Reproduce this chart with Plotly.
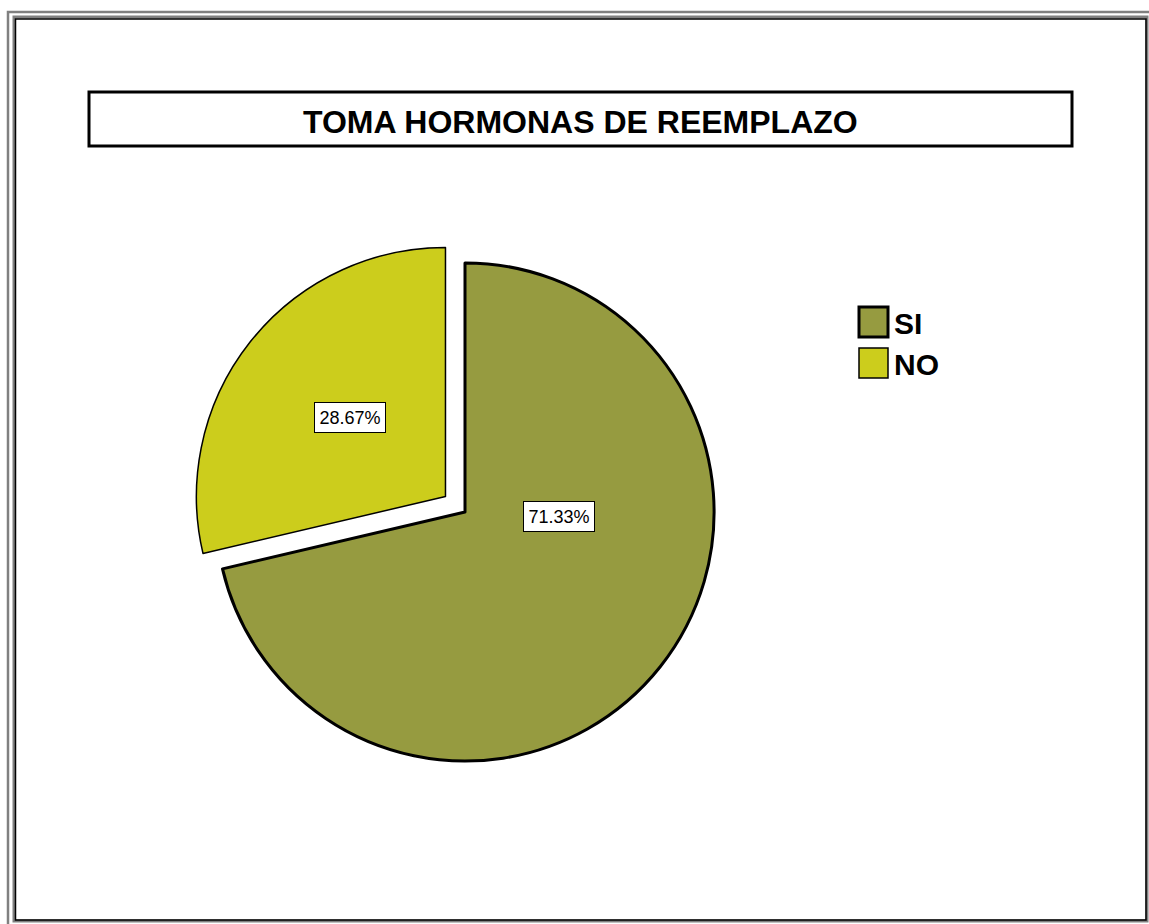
"""Toma hormonas de reemplazo - pie chart."""

import plotly.graph_objects as go

# Data
labels = ["SI", "NO"]
counts = [107, 43]
colors = ["#969B40", "#CCCD1C"]
pulls = [0, 0.1]
edge_widths = [3, 1.5]
title_text = "TOMA HORMONAS DE REEMPLAZO"

W, H = 1149, 924


def px(x):
    return x / W


def py(y):
    return 1 - y / H


total = sum(counts)
pct = [f"{c / total * 100:.2f}%" for c in counts]

# pie box of 548px around centre (465, 512)
cx, cy, half = 465, 512, 274

fig = go.Figure(
    go.Pie(
        labels=labels,
        values=counts,
        sort=False,
        direction="clockwise",
        rotation=0,
        pull=pulls,
        marker=dict(colors=colors, line=dict(color="black", width=edge_widths)),
        textinfo="none",
        hoverinfo="label+percent",
        showlegend=False,
        domain=dict(x=[px(cx - half), px(cx + half)], y=[py(cy + half), py(cy - half)]),
    )
)

shapes = [
    # outer double frame
    dict(type="rect", x0=px(8), y0=py(12), x1=px(1170), y1=py(940),
         line=dict(color="#808080", width=2.5)),
    dict(type="rect", x0=px(14), y0=py(17), x1=px(1147), y1=py(921),
         line=dict(color="#808080", width=3)),
    dict(type="rect", x0=px(15.5), y0=py(19), x1=px(1146), y1=py(920),
         line=dict(color="black", width=1.5)),
    # title box
    dict(type="rect", x0=px(89), y0=py(92), x1=px(1072), y1=py(146),
         line=dict(color="black", width=3), fillcolor="white", layer="below"),
]

annotations = [
    dict(text=f"<b>{title_text}</b>", x=px(580), y=py(122), xref="paper", yref="paper",
         xanchor="center", yanchor="middle", showarrow=False,
         font=dict(family="Liberation Sans, Arial", size=32, color="black")),
]

# percentage label boxes
label_pos = [(559, 516), (350, 418)]
for txt, (lx, ly) in zip(pct, label_pos):
    annotations.append(dict(
        text=txt, x=px(lx), y=py(ly), xref="paper", yref="paper", showarrow=False,
        xanchor="center", yanchor="middle", width=68, height=27, borderpad=1,
        font=dict(family="Liberation Sans, Arial", size=18, color="black"),
        bgcolor="white", bordercolor="black", borderwidth=1,
    ))

# legend drawn by hand (large swatches)
leg_top = [307, 348]
for lab, col, lw, top in zip(labels, colors, edge_widths, leg_top):
    shapes.append(dict(type="rect", x0=px(859), y0=py(top), x1=px(888), y1=py(top + 30),
                       fillcolor=col, line=dict(color="black", width=lw)))
    annotations.append(dict(
        text=f"<b>{lab}</b>", x=px(892), y=py(top + 16), xref="paper", yref="paper",
        xanchor="left", yanchor="middle", showarrow=False,
        font=dict(family="Liberation Sans, Arial", size=30, color="black"),
    ))

fig.update_layout(
    width=W, height=H,
    margin=dict(l=0, r=0, t=0, b=0),
    paper_bgcolor="white",
    plot_bgcolor="white",
    shapes=shapes,
    annotations=annotations,
)

fig.write_html("out.html", config={"displayModeBar": False},
               post_script="document.body.style.margin='0';")
